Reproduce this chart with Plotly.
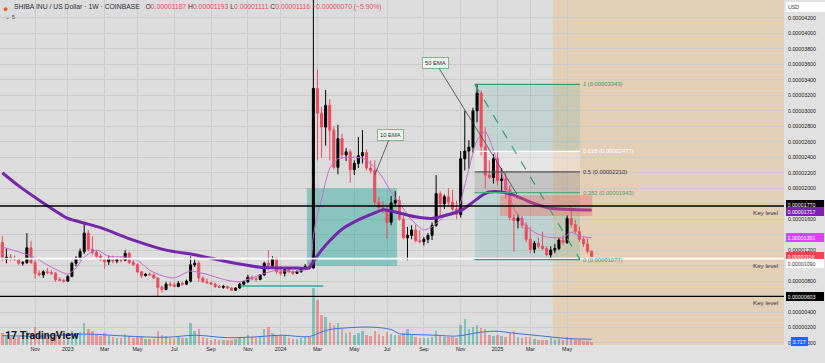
import plotly.graph_objects as go
import pandas as pd

SCALE = 1e-6  # all price lists below are in millionths of a USD
FIRST_WEEK = "2022-09-12"

opens = [13.0, 10.8, 11.1, 10.9, 10.8, 10.3, 10.4, 12.3, 10.4, 9.0, 8.8, 9.2, 9.1, 9.0, 8.2, 8.1,
         8.0, 8.6, 10.3, 11.0, 11.8, 14.2, 12.1, 11.7, 11.2, 10.8, 10.5, 10.8, 10.6, 10.8, 10.7, 11.6,
         10.4, 10.1, 9.2, 8.7, 8.9, 8.8, 8.4, 7.2, 6.9, 7.6, 7.5, 7.3, 7.7, 7.6, 8.0, 10.1,
         10.3, 8.4, 7.9, 7.8, 7.6, 7.3, 7.2, 7.3, 7.1, 6.8, 7.1, 7.6, 7.9, 8.5, 8.3, 8.2,
         8.8, 10.3, 10.0, 10.9, 9.2, 9.0, 9.5, 9.2, 9.0, 9.2, 9.6, 9.9, 9.7, 32.9, 29.7, 27.9,
         30.7, 27.5, 22.7, 26.4, 24.3, 24.7, 22.4, 23.2, 24.2, 24.6, 22.6, 22.3, 18.2, 17.5, 17.2, 15.6,
         18.1, 18.4, 16.0, 13.6, 13.9, 14.6, 13.2, 13.1, 13.4, 13.9, 15.2, 19.3, 18.0, 18.9, 18.2, 17.3,
         16.6, 23.8, 24.8, 25.3, 30.0, 32.3, 25.4, 21.7, 21.4, 23.8, 21.0, 21.2, 19.8, 16.2, 15.8, 16.1,
         15.2, 13.4, 12.1, 12.9, 12.5, 12.2, 11.4, 12.0, 12.2, 13.3, 13.0, 16.1, 15.3, 14.4, 13.4, 12.8,
         11.87]
highs = [13.8, 12.2, 11.5, 11.3, 11.0, 10.6, 14.2, 13.2, 10.8, 9.4, 9.4, 9.7, 9.4, 9.2, 8.5, 8.3,
         8.8, 10.5, 11.2, 12.2, 15.6, 14.6, 13.8, 12.0, 11.5, 11.0, 11.3, 11.3, 11.0, 11.2, 12.0, 11.8,
         10.8, 10.3, 9.3, 9.0, 9.1, 9.0, 8.5, 7.4, 7.9, 7.9, 7.8, 8.0, 7.9, 8.2, 11.2, 10.8,
         10.6, 8.6, 8.3, 7.9, 7.8, 7.5, 7.5, 7.4, 7.2, 7.2, 7.8, 8.0, 8.8, 8.7, 8.6, 8.9,
         10.5, 12.0, 11.2, 11.1, 9.9, 9.8, 9.7, 9.4, 9.4, 9.7, 10.2, 10.4, 44.5, 35.3, 30.5, 32.7,
         31.5, 28.0, 28.2, 27.0, 25.2, 25.0, 23.6, 26.6, 27.5, 25.0, 23.6, 23.6, 18.9, 18.3, 17.6, 19.0,
         19.6, 19.0, 16.5, 15.0, 15.2, 15.3, 14.6, 13.7, 14.2, 15.6, 21.7, 19.6, 19.2, 20.0, 19.8, 18.4,
         24.8, 30.0, 26.2, 30.4, 33.43, 32.6, 27.9, 23.6, 24.4, 24.6, 22.6, 22.0, 20.4, 16.6, 16.6, 16.4,
         15.6, 15.0, 13.2, 13.6, 14.4, 12.5, 12.5, 12.8, 13.6, 13.9, 16.5, 17.6, 15.9, 15.0, 13.7, 13.5,
         11.93]
lows = [10.6, 10.3, 10.6, 10.6, 10.1, 10.0, 10.2, 10.2, 8.3, 8.6, 8.4, 8.9, 8.8, 7.9, 8.0, 7.8,
        7.9, 8.5, 9.9, 10.7, 11.5, 11.8, 11.4, 10.9, 10.6, 9.6, 10.1, 10.3, 10.3, 10.4, 10.6, 10.2,
        10.0, 9.0, 8.4, 8.6, 8.7, 8.3, 6.0, 6.5, 6.8, 7.3, 7.2, 7.2, 7.4, 7.5, 7.8, 9.8,
        7.9, 7.8, 7.6, 7.5, 7.1, 7.1, 7.0, 7.0, 6.7, 6.7, 7.0, 7.4, 7.8, 8.1, 7.9, 8.1,
        8.7, 9.4, 9.7, 8.9, 8.7, 8.6, 9.1, 8.8, 8.9, 9.1, 9.5, 9.5, 9.6, 23.6, 23.9, 25.5,
        23.6, 22.4, 21.8, 23.8, 23.5, 20.7, 21.7, 22.6, 23.2, 22.3, 21.9, 17.6, 16.9, 16.8, 13.5, 15.2,
        17.6, 15.8, 13.4, 10.7, 13.4, 13.0, 12.9, 12.6, 12.9, 13.3, 15.0, 16.5, 17.3, 17.8, 17.0, 16.0,
        16.2, 22.3, 22.5, 24.6, 28.5, 24.2, 20.0, 21.2, 20.6, 20.4, 19.6, 18.6, 15.8, 11.8, 14.8, 14.8,
        13.0, 11.6, 11.6, 12.2, 12.0, 11.2, 10.77, 11.6, 12.0, 12.7, 12.8, 14.9, 14.1, 13.1, 12.4, 11.6,
        11.11]
closes = [10.8, 11.1, 10.9, 10.8, 10.3, 10.4, 12.3, 10.4, 9.0, 8.8, 9.2, 9.1, 9.0, 8.2, 8.1, 8.0,
          8.6, 10.3, 11.0, 11.8, 14.2, 12.1, 11.7, 11.2, 10.8, 10.5, 10.8, 10.6, 10.8, 10.7, 11.6, 10.4,
          10.1, 9.2, 8.7, 8.9, 8.8, 8.4, 7.2, 6.9, 7.6, 7.5, 7.3, 7.7, 7.6, 8.0, 10.1, 10.3,
          8.4, 7.9, 7.8, 7.6, 7.3, 7.2, 7.3, 7.1, 6.8, 7.1, 7.6, 7.9, 8.5, 8.3, 8.2, 8.8,
          10.3, 10.0, 10.9, 9.2, 9.0, 9.5, 9.2, 9.0, 9.2, 9.6, 9.9, 9.7, 32.9, 29.7, 27.9, 30.7,
          27.5, 22.7, 26.4, 24.3, 24.7, 22.4, 23.2, 24.2, 24.6, 22.6, 22.3, 18.2, 17.5, 17.2, 15.6, 18.1,
          18.4, 16.0, 13.6, 13.9, 14.6, 13.2, 13.1, 13.4, 13.9, 15.2, 19.3, 18.0, 18.9, 18.2, 17.3, 16.6,
          23.8, 24.8, 25.3, 30.0, 32.3, 25.4, 21.7, 21.4, 23.8, 21.0, 21.2, 19.8, 16.2, 15.8, 16.1, 15.2,
          13.4, 12.1, 12.9, 12.5, 12.2, 11.4, 12.0, 12.2, 13.3, 13.0, 16.1, 15.3, 14.4, 13.4, 12.8, 11.87,
          11.16]
# weekly volume, trillions of SHIB
volumes_t = [14.8, 12.3, 9.8, 8.6, 9.8, 8.6, 17.2, 14.8, 22.1, 12.3, 9.8, 8.6, 8.6, 11.1, 7.4, 6.2,
             8.6, 17.2, 14.8, 16.0, 27.1, 19.7, 17.2, 12.3, 11.1, 14.8, 11.1, 9.8, 8.6, 8.6, 13.5, 11.1,
             8.6, 9.8, 9.8, 7.4, 7.4, 7.4, 17.2, 12.3, 11.1, 8.6, 7.4, 9.8, 8.6, 8.6, 27.1, 17.2,
             19.7, 9.8, 8.6, 6.2, 7.4, 6.2, 6.2, 6.2, 6.2, 7.4, 9.8, 8.6, 12.3, 9.8, 8.6, 11.1,
             19.7, 22.1, 14.8, 12.3, 12.3, 11.1, 8.6, 7.4, 7.4, 8.6, 9.8, 9.8, 70.1, 55.4, 36.9, 34.4,
             27.1, 24.6, 27.1, 19.7, 14.8, 16.0, 12.3, 14.8, 17.2, 12.3, 11.1, 17.2, 13.5, 11.1, 16.0, 13.5,
             12.3, 12.3, 14.8, 19.7, 12.3, 9.8, 8.6, 8.6, 8.6, 9.8, 17.2, 12.3, 9.8, 9.8, 9.8, 8.6,
             24.6, 32.0, 19.7, 22.1, 24.6, 20.9, 19.7, 12.3, 11.1, 12.3, 11.1, 9.8, 14.8, 17.2, 9.8, 8.6,
             9.8, 9.8, 7.4, 6.2, 6.2, 6.2, 8.6, 6.2, 7.4, 6.2, 9.8, 8.6, 6.2, 6.2, 4.9, 4.9,
             3.71]

# indicator readings (week index -> value)
ema50_weeks = [0, 4, 10, 16, 20, 24, 32, 40, 47, 55, 63, 71, 75, 76, 77, 78, 80, 83, 87, 91, 93, 97,
               101, 105, 109, 112, 115, 117, 119, 122, 125, 129, 134, 144]
ema50_vals = [22.0, 20.3, 18.1, 16.1, 15.5, 14.9, 13.3, 12.0, 11.4, 10.5, 9.8, 9.7, 9.7, 10.5, 11.3,
              12.0, 13.2, 14.7, 15.9, 16.8, 17.2, 16.8, 16.3, 16.1, 16.6, 17.1, 18.2, 19.0, 19.5, 19.5,
              19.1, 18.2, 17.4, 17.17]
ema10_weeks = [0, 5, 8, 12, 16, 18, 20, 23, 26, 30, 33, 36, 39, 42, 46, 49, 55, 58, 63, 67, 71, 75,
               76, 77, 78, 80, 82, 85, 88, 91, 93, 95, 97, 100, 103, 105, 108, 111, 113, 116, 118,
               121, 123, 125, 128, 130, 133, 135, 137, 139, 141, 144]
ema10_vals = [12.4, 11.6, 11.0, 9.8, 8.9, 9.7, 11.1, 12.0, 11.2, 11.1, 10.7, 9.4, 8.7, 8.4, 9.3, 9.0,
              8.1, 7.9, 8.8, 9.4, 9.2, 9.7, 13.9, 16.6, 18.6, 22.6, 23.8, 24.0, 23.9, 22.7, 21.3, 19.5,
              18.1, 15.9, 14.6, 15.0, 16.3, 16.8, 20.4, 26.2, 27.3, 23.4, 20.5, 17.4, 15.1, 14.3, 13.7,
              13.6, 13.6, 14.3, 13.8, 13.61]
volma_weeks = [0, 10, 20, 30, 40, 47, 55, 62, 68, 75, 78, 80, 84, 90, 95, 97, 100, 106, 111, 116,
               120, 126, 132, 138, 144]
volma_vals = [11.5, 11.0, 13.5, 11.0, 9.5, 12.0, 9.0, 10.0, 12.0, 10.5, 16.0, 19.0, 21.0, 22.0, 19.0,
              14.0, 13.0, 12.0, 11.0, 15.0, 17.0, 14.0, 11.0, 8.0, 7.0]

month_ticks = ["2022-11-07", "2023-01-02", "2023-03-06", "2023-05-01", "2023-07-03", "2023-09-04",
               "2023-11-06", "2024-01-01", "2024-03-04", "2024-05-06", "2024-07-01", "2024-09-02",
               "2024-11-04", "2025-01-06", "2025-03-03", "2025-05-05"]
month_labels = ["Nov", "2023", "Mar", "May", "Jul", "Sep", "Nov", "2024", "Mar", "May", "Jul", "Sep",
                "Nov", "2025", "Mar", "May"]
price_ticks = [0, 2, 4, 8, 12, 16, 20, 22, 24, 26, 28, 30, 32, 34, 36, 38, 40, 42]
price_grid_only = [6, 10, 14, 18]  # hidden behind the coloured price-scale markers

fib_ratios = ["1", "0.618", "0.5", "0.382", "0"]
fib_prices = [33.43, 24.77, 22.10, 19.43, 10.77]
key_levels = [17.70, 10.90, 6.03]

# ---------------------------------------------------------------------------
dates = pd.date_range(FIRST_WEEK, periods=len(closes), freq="7D")
s = lambda arr: [v * SCALE for v in arr]

UP = "#000000"
DOWN = "#ee4a5c"
vol_colors = ["rgba(38,166,154,0.5)" if c >= o else "rgba(239,83,80,0.5)" for o, c in zip(opens, closes)]

fig = go.Figure()
fig.add_trace(go.Bar(x=dates, y=volumes_t, yaxis="y2", marker_color=vol_colors,
                     marker_line_width=0, width=4.2 * 86400000, hoverinfo="skip"))
fig.add_trace(go.Scatter(x=[dates[i] for i in volma_weeks], y=volma_vals, yaxis="y2", mode="lines",
                         line=dict(color="#3d6fe6", width=1, shape="spline"), hoverinfo="skip"))
fig.add_trace(go.Candlestick(x=dates, open=s(opens), high=s(highs), low=s(lows), close=s(closes),
                             increasing=dict(line=dict(color=UP, width=1), fillcolor=UP),
                             decreasing=dict(line=dict(color=DOWN, width=1), fillcolor=DOWN),
                             whiskerwidth=0, hoverinfo="skip"))
fig.add_trace(go.Scatter(x=[dates[i] for i in ema10_weeks], y=s(ema10_vals), mode="lines",
                         line=dict(color="#c968d6", width=1, shape="spline", smoothing=0.6),
                         hoverinfo="skip"))
fig.add_trace(go.Scatter(x=[dates[i] for i in ema50_weeks], y=s(ema50_vals), mode="lines",
                         line=dict(color="#7327aa", width=3, shape="spline", smoothing=0.6),
                         hoverinfo="skip"))

FIB_X0, FIB_X1 = "2024-11-28", "2025-05-27"
shapes = []
shapes.append(dict(type="rect", xref="x", yref="paper", x0="2025-04-11", x1="2026-06-01", y0=0, y1=1,
                   fillcolor="rgba(255,160,50,0.22)", line_width=0, layer="between"))
shapes.append(dict(type="rect", xref="x", yref="y", x0="2024-02-15", x1="2024-07-18",
                   y0=9.95 * SCALE, y1=20.0 * SCALE, fillcolor="rgba(38,166,154,0.45)",
                   line_width=0, layer="between"))
fib_fills = ["rgba(38,166,154,0.13)", "rgba(255,255,255,0.28)", "rgba(100,100,100,0.2)",
             "rgba(38,166,154,0.16)"]
for k in range(4):
    shapes.append(dict(type="rect", xref="x", yref="y", x0=FIB_X0, x1=FIB_X1,
                       y0=fib_prices[k + 1] * SCALE, y1=fib_prices[k] * SCALE,
                       fillcolor=fib_fills[k], line_width=0, layer="between"))
shapes.append(dict(type="rect", xref="x", yref="y", x0="2025-01-10", x1="2025-06-17",
                   y0=16.4 * SCALE, y1=19.1 * SCALE, fillcolor="rgba(244,100,90,0.38)",
                   line_width=0, layer="above"))
key_line_colors = ["#000000", "#ffffff", "#000000"]
key_line_widths = [1.3, 1.6, 1.3]
for p, c, w in zip(key_levels, key_line_colors, key_line_widths):
    shapes.append(dict(type="line", xref="paper", yref="y", x0=0, x1=1, y0=p * SCALE, y1=p * SCALE,
                       line=dict(color=c, width=w), layer="above"))
fib_line_colors = ["#3f9a6e", "#ffffff", "#555555", "#4caf7a", "#2e9c8a"]
for p, c in zip(fib_prices, fib_line_colors):
    shapes.append(dict(type="line", xref="x", yref="y", x0=FIB_X0, x1=FIB_X1, y0=p * SCALE,
                       y1=p * SCALE, line=dict(color=c, width=1.2), layer="above"))
shapes.append(dict(type="line", xref="x", yref="y", x0=FIB_X0, x1=FIB_X1, y0=fib_prices[0] * SCALE,
                   y1=fib_prices[-1] * SCALE, line=dict(color="#3a9a78", width=1.2, dash="dash"),
                   layer="above"))
shapes.append(dict(type="line", xref="x", yref="y", x0="2023-10-24", x1="2024-03-14",
                   y0=7.36 * SCALE, y1=7.36 * SCALE, line=dict(color="rgba(38,166,154,0.7)", width=2),
                   layer="above"))

ann = []
FONT = "Liberation Sans, Arial"
AX_SIZE = 5.3
AX_FONT = dict(family=FONT, size=AX_SIZE, color="#222")
fib_text_colors = ["#3f9a6e", "#ffffff", "#333333", "#4a9f6a", "#2e9c8a"]
for r, p, c in zip(fib_ratios, fib_prices, fib_text_colors):
    ann.append(dict(x="2025-05-29", y=p * SCALE, xref="x", yref="y", xanchor="left", yanchor="middle",
                    text=f"{r} ({p * SCALE:.8f})", showarrow=False,
                    font=dict(family=FONT, size=5.8, color=c)))
for p in key_levels:
    ann.append(dict(x=1, y=p * SCALE, xref="paper", yref="y", xanchor="right", yanchor="top",
                    xshift=-4, yshift=-1, text="Key level", showarrow=False,
                    font=dict(family=FONT, size=6.2, color="#333")))
callout = dict(bgcolor="#eef3ee", bordercolor="#86b495", borderwidth=1, borderpad=2,
               font=dict(family=FONT, size=5.8, color="#333"),
               showarrow=True, arrowhead=0, arrowwidth=0.8, arrowcolor="#444", axref="pixel",
               ayref="pixel")
ann.append(dict(x="2025-02-08", y=19.25 * SCALE, xref="x", yref="y", text="50 EMA", ax=-81, ay=-131,
                **callout))
ann.append(dict(x="2024-06-10", y=21.7 * SCALE, xref="x", yref="y", text="10 EMA", ax=16, ay=-40,
                **callout))


def marker(price_text, yval, bg, fg, shift=0, yref="y"):
    return dict(x=1, y=yval, xref="paper", yref=yref, xanchor="left", yanchor="middle", xshift=2,
                yshift=shift, text=price_text, showarrow=False, bgcolor=bg, bordercolor=bg,
                borderpad=0.5, width=35, align="left", font=dict(family=FONT, size=AX_SIZE, color=fg))


ann.append(marker(f"{key_levels[0] * SCALE:.8f}", key_levels[0] * SCALE, "#000000", "#ffffff", shift=1.5))
ann.append(marker(f"{ema50_vals[-1] * SCALE:.8f}", ema50_vals[-1] * SCALE, "#7b22b4", "#ffffff", shift=-1.5))
ann.append(marker(f"{ema10_vals[-1] * SCALE:.8f}", ema10_vals[-1] * SCALE, "#e040fb", "#ffffff"))
ann.append(marker(f"{closes[-1] * SCALE:.8f}", closes[-1] * SCALE, "#ef4350", "#ffffff", shift=0.5))
ann.append(marker(f"{key_levels[1] * SCALE:.8f}", key_levels[1] * SCALE, "#ffffff", "#333", shift=-5))
ann.append(marker(f"{key_levels[2] * SCALE:.8f}", key_levels[2] * SCALE, "#000000", "#ffffff"))
ann.append(dict(x=1, y=volumes_t[-1], xref="paper", yref="y2", xanchor="left", yanchor="middle",
                xshift=7, text=f"{volumes_t[-1]:.2f}T", showarrow=False, bgcolor="#2962ff",
                bordercolor="#2962ff", borderpad=0.5,
                font=dict(family=FONT, size=AX_SIZE, color="#ffffff")))
ann.append(dict(x=1, y=1, xref="paper", yref="paper", xanchor="left", yanchor="top", xshift=2, yshift=-2,
                text="USD", showarrow=False, bgcolor="#ffffff", bordercolor="#ffffff", borderpad=1,
                width=35, align="left", font=dict(family=FONT, size=AX_SIZE, color="#333")))

red = "#e8505f"
hdr = ("SHIBA INU / US Dollar · 1W · COINBASE  "
       f" O<span style='color:{red}'>{opens[-1] * SCALE:.8f}</span>"
       f" H<span style='color:{red}'>{highs[-1] * SCALE:.8f}</span>"
       f" L<span style='color:{red}'>{lows[-1] * SCALE:.8f}</span>"
       f" C<span style='color:{red}'>{closes[-1] * SCALE:.8f}</span>"
       f" <span style='color:{red}'>−0.00000070 (−5.90%)</span>")
ann.append(dict(x=0, y=1, xref="paper", yref="paper", xanchor="left", yanchor="top", xshift=12, yshift=-1,
                text=hdr, showarrow=False, font=dict(family=FONT, size=6.8, color="#2a2e39")))
ann.append(dict(x=0, y=1, xref="paper", yref="paper", xanchor="left", yanchor="top", xshift=1, yshift=0,
                text="●", showarrow=False, font=dict(size=9, color="#e8622a")))
ann.append(dict(x=0, y=1, xref="paper", yref="paper", xanchor="left", yanchor="top", xshift=3, yshift=-12,
                text="⌄ 5", showarrow=False, font=dict(family=FONT, size=6, color="#555")))
ann.append(dict(x=0, y=0, xref="paper", yref="paper", xanchor="left", yanchor="bottom", xshift=3, yshift=1,
                text="<b>17</b> <b>TradingView</b>", showarrow=False,
                font=dict(family="Roboto, Liberation Sans", size=10.5, color="#131722")))

GRID = "#cbcbcb"
fig.update_layout(
    width=825, height=363,
    margin=dict(l=0, r=41, t=0, b=18),
    paper_bgcolor="#e1e1e1", plot_bgcolor="#dcdcdc",
    showlegend=False,
    shapes=shapes, annotations=ann,
    bargap=0,
    xaxis=dict(type="date", range=["2022-09-08", "2026-05-11"], tickvals=month_ticks,
               ticktext=month_labels, showgrid=True, gridcolor=GRID, gridwidth=1,
               zeroline=False, showline=False, ticks="", tickfont=AX_FONT,
               rangeslider=dict(visible=False), fixedrange=True),
    yaxis=dict(side="right", range=[-0.26 * SCALE, 44.32 * SCALE], tickvals=s(price_ticks),
               ticktext=[f"{v * SCALE:.8f}" for v in price_ticks], showgrid=True,
               gridcolor=GRID, gridwidth=1, zeroline=False, showline=False, ticks="",
               tickfont=AX_FONT, ticklabelstandoff=3, fixedrange=True,
               minor=dict(tickvals=s(price_grid_only), showgrid=True, gridcolor=GRID, gridwidth=1,
                          ticks="")),
    yaxis2=dict(overlaying="y", range=[0, 424], visible=False, fixedrange=True),
)

fig.write_html("out.html", config={"displayModeBar": False, "staticPlot": True},
               post_script="document.body.style.margin='0px';document.body.style.overflow='hidden';")
